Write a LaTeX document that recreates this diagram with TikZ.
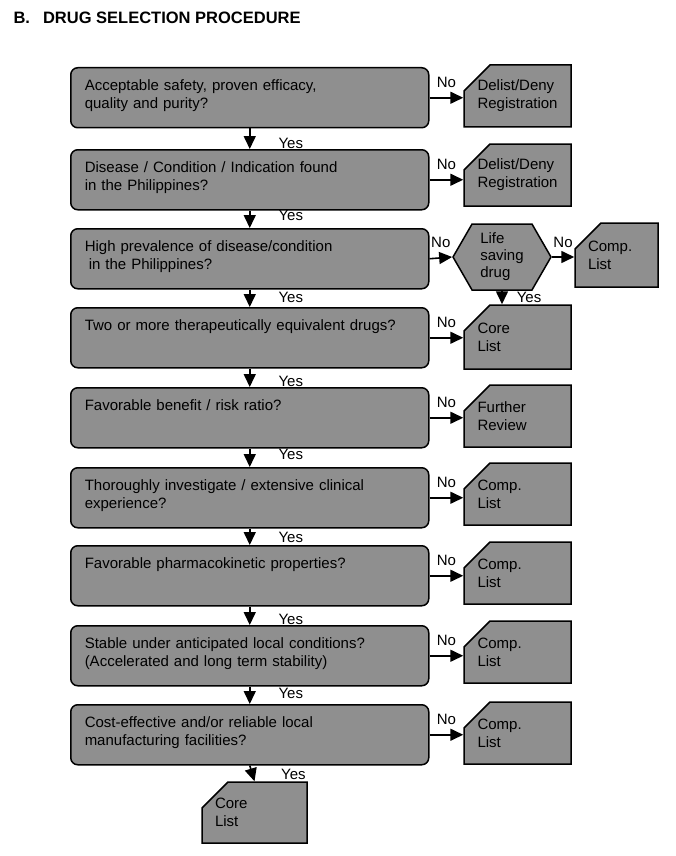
\documentclass[tikz,border=0pt]{standalone}
\usepackage{fontspec}
\setmainfont{Liberation Sans}
\usetikzlibrary{shapes,arrows.meta}
\definecolor{scan}{gray}{0.56}
\tikzstyle{qbox}=[rectangle,rounded corners=7pt,draw=black,line width=1.5pt,fill=scan,anchor=north west,minimum width=358pt,minimum height=60pt,text width=330pt,align=left,inner xsep=14pt,inner ysep=0pt,text height=23pt,text depth=37pt,font=\fontsize{15}{17.5}\selectfont]
\tikzstyle{card}=[chamfered rectangle,chamfered rectangle corners=north west,chamfered rectangle sep=13pt,draw=black,line width=1.5pt,fill=scan,minimum width=107pt,minimum height=62pt,text width=80pt,align=left,inner sep=0pt,font=\fontsize{15}{18}\selectfont]
\tikzstyle{hexa}=[signal,signal to=east and west,signal pointer angle=120,draw=black,line width=1.5pt,fill=scan,minimum width=98pt,minimum height=66pt,align=left,inner sep=1pt,font=\fontsize{15}{17}\selectfont]
\tikzstyle{arr}=[line width=1.6pt,-{Triangle[length=13pt,width=12pt]}]
\tikzstyle{yes}=[anchor=west,xshift=28pt,inner sep=0pt,font=\fontsize{15}{17}\selectfont]
\tikzstyle{no}=[above=7pt,inner sep=2pt,font=\fontsize{15}{17}\selectfont]

\begin{document}
\begin{tikzpicture}[x=1pt,y=-1pt]
\useasboundingbox (0,0) rectangle (675,856);
\node[anchor=base west] (title) at (10,24) {\fontsize{16.5}{19}\selectfont\bfseries B.\hspace{13pt}DRUG SELECTION PROCEDURE};
% questions
\node[qbox] (q1) at (70,67) {Acceptable safety, proven efficacy,\\quality and purity?};
\node[qbox] (q2) at (70,149) {Disease / Condition / Indication found\\in the Philippines?};
\node[qbox] (q3) at (70,228) {High prevalence of disease/condition\\\hspace{4pt}in the Philippines?};
\node[qbox] (q4) at (70,307) {Two or more therapeutically equivalent drugs?};
\node[qbox] (q5) at (70,387) {Favorable benefit / risk ratio?};
\node[qbox] (q6) at (70,467) {Thoroughly investigate / extensive clinical\\experience?};
\node[qbox] (q7) at (70,545) {Favorable pharmacokinetic properties?};
\node[qbox] (q8) at (70,625) {Stable under anticipated local conditions?\\(Accelerated and long term stability)};
\node[qbox] (q9) at (70,704) {Cost-effective and/or reliable local\\manufacturing facilities?};
% outcomes
\node[card] (c1) at (517.5,96) {Delist/Deny\\Registration};
\node[card] (c2) at (517.5,175) {Delist/Deny\\Registration};
\node[hexa] (h3) at (502,257) {Life\\saving\\drug};
\node[card,minimum width=83pt,minimum height=64pt,text width=57pt] (c3) at (616.5,255) {Comp.\\List};
\node[card,minimum height=64pt] (c4) at (517.5,337) {Core\\List};
\node[card] (c5) at (517.5,416) {Further\\Review};
\node[card] (c6) at (517.5,494) {Comp.\\List};
\node[card] (c7) at (517.5,573) {Comp.\\List};
\node[card] (c8) at (517.5,652) {Comp.\\List};
\node[card] (c9) at (517.5,733) {Comp.\\List};
\node[card,minimum width=105pt,minimum height=61pt,text width=79pt] (k) at (254.5,812.5) {Core\\List};
% yes
\draw[arr] (q1.south) -- node[yes,pos=.72]{Yes} (q2.north);
\draw[arr] (q2.south) -- node[yes,pos=.3]{Yes} (q3.north);
\draw[arr] (q3.south) -- node[yes,pos=.47]{Yes} (q4.north);
\draw[arr] (q4.south) -- node[yes,pos=.72]{Yes} (q5.north);
\draw[arr] (q5.south) -- node[yes,pos=.3]{Yes} (q6.north);
\draw[arr] (q6.south) -- node[yes,pos=.55]{Yes} (q7.north);
\draw[arr] (q7.south) -- node[yes,pos=.72]{Yes} (q8.north);
\draw[arr] (q8.south) -- node[yes,pos=.37]{Yes} (q9.north);
\draw[arr] (q9.south) -- node[yes,pos=.55]{Yes} (k.north);
\draw[arr] (h3.south) -- node[yes,pos=.5,xshift=-14pt]{Yes} (h3.south |- c4.north);
% no
\draw[arr] (q1.east) -- node[no]{No} (q1.east -| c1.west);
\draw[arr] (q2.east) -- node[no]{No} (q2.east -| c2.west);
\draw[arr] (q3.east) -- node[no]{No} (h3.west);
\draw[arr] (h3.east) -- node[no]{No} (h3.east -| c3.west);
\draw[arr] (q4.east) -- node[no]{No} (q4.east -| c4.west);
\draw[arr] (q5.east) -- node[no]{No} (q5.east -| c5.west);
\draw[arr] (q6.east) -- node[no]{No} (q6.east -| c6.west);
\draw[arr] (q7.east) -- node[no]{No} (q7.east -| c7.west);
\draw[arr] (q8.east) -- node[no]{No} (q8.east -| c8.west);
\draw[arr] (q9.east) -- node[no]{No} (q9.east -| c9.west);
\end{tikzpicture}
\end{document}
